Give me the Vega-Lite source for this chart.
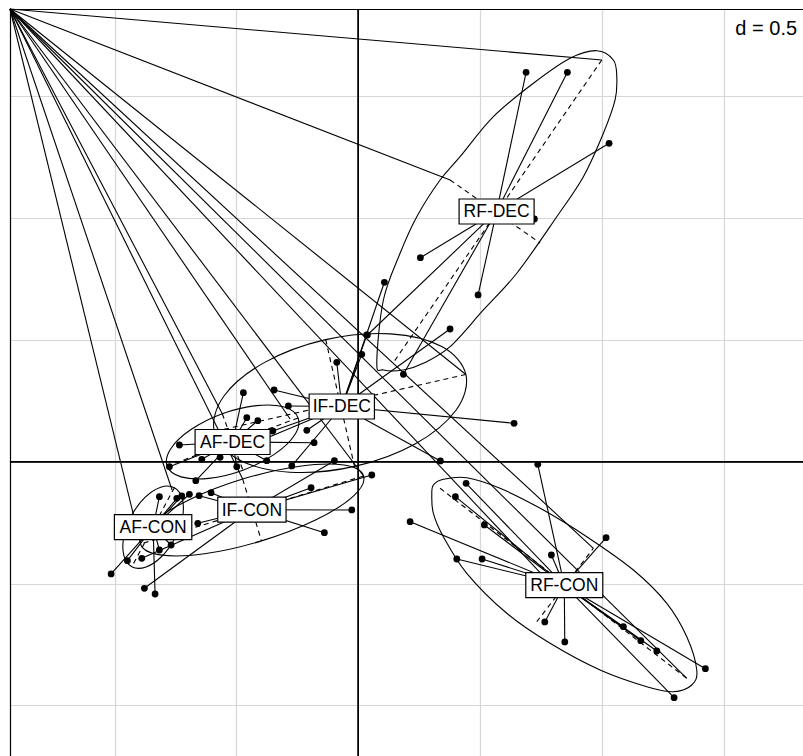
{
  "$schema": "https://vega.github.io/schema/vega-lite/v6.json",
  "width": 793,
  "height": 747,
  "autosize": {"type": "none"},
  "padding": {"left": 10, "top": 9, "right": 0, "bottom": 0},
  "background": "white",
  "config": {"view": {"stroke": null}},
  "datasets": {
    "points": [
      {"class":"RF-DEC","x":0.6879,"y":1.5972},{"class":"RF-DEC","x":0.8573,"y":1.5972},{"class":"RF-DEC","x":1.0283,"y":1.3060},{"class":"RF-DEC","x":0.2543,"y":0.8367},{"class":"RF-DEC","x":0.4910,"y":0.6838},{"class":"RF-DEC","x":0.0369,"y":0.5197},{"class":"RF-DEC","x":0.1846,"y":0.3585},{"class":"RF-DEC","x":0.7219,"y":0.9955},
      {"class":"RF-CON","x":0.7358,"y":-0.0107},{"class":"RF-CON","x":0.4418,"y":-0.0886},{"class":"RF-CON","x":0.3979,"y":-0.1436},{"class":"RF-CON","x":0.2121,"y":-0.2461},{"class":"RF-CON","x":0.5168,"y":-0.2596},{"class":"RF-CON","x":1.0160,"y":-0.3117},{"class":"RF-CON","x":0.7916,"y":-0.3827},{"class":"RF-CON","x":0.4036,"y":-0.3991},{"class":"RF-CON","x":0.5074,"y":-0.3991},{"class":"RF-CON","x":0.7646,"y":-0.6575},{"class":"RF-CON","x":0.8466,"y":-0.7395},{"class":"RF-CON","x":1.0869,"y":-0.6768},{"class":"RF-CON","x":1.1583,"y":-0.7342},{"class":"RF-CON","x":1.2240,"y":-0.7765},{"class":"RF-CON","x":1.4233,"y":-0.8491},{"class":"RF-CON","x":1.2949,"y":-0.9680},
      {"class":"IF-DEC","x":0.1066,"y":0.7358},{"class":"IF-DEC","x":0.0345,"y":0.5197},{"class":"IF-DEC","x":0.0139,"y":0.4405},{"class":"IF-DEC","x":-0.0886,"y":0.4077},{"class":"IF-DEC","x":0.3761,"y":0.5443},{"class":"IF-DEC","x":-0.3458,"y":0.2941},{"class":"IF-DEC","x":-0.2871,"y":0.2285},{"class":"IF-DEC","x":-0.2116,"y":0.1288},{"class":"IF-DEC","x":0.6386,"y":0.1575},{"class":"IF-DEC","x":0.3363,"y":0.0029},{"class":"IF-DEC","x":-0.2732,"y":-0.0176},{"class":"IF-DEC","x":-0.3511,"y":0.1259},{"class":"IF-DEC","x":-0.3950,"y":0.0890},
      {"class":"AF-DEC","x":-0.4717,"y":0.2830},{"class":"AF-DEC","x":-0.4577,"y":0.1805},{"class":"AF-DEC","x":-0.4126,"y":0.1682},{"class":"AF-DEC","x":-0.1817,"y":0.0779},{"class":"AF-DEC","x":-0.7342,"y":0.0685},{"class":"AF-DEC","x":-0.6423,"y":0.0098},{"class":"AF-DEC","x":-0.7752,"y":-0.0205},{"class":"AF-DEC","x":-0.3757,"y":0.0041},{"class":"AF-DEC","x":-0.4988,"y":-0.0205},{"class":"AF-DEC","x":-0.6669,"y":-0.0779},{"class":"AF-DEC","x":-0.5673,"y":0.0180},
      {"class":"IF-CON","x":-0.6534,"y":-0.1395},{"class":"IF-CON","x":-0.6042,"y":-0.1272},{"class":"IF-CON","x":-0.6587,"y":-0.2527},{"class":"IF-CON","x":-0.8778,"y":-0.5193},{"class":"IF-CON","x":-0.1940,"y":-0.1066},{"class":"IF-CON","x":-0.0271,"y":-0.1981},{"class":"IF-CON","x":-0.1395,"y":-0.2912},{"class":"IF-CON","x":-0.0984,"y":0.0041},{"class":"IF-CON","x":0.0550,"y":-0.0546},{"class":"IF-CON","x":-0.8884,"y":-0.3962},
      {"class":"AF-CON","x":-0.8162,"y":-0.1436},{"class":"AF-CON","x":-0.7449,"y":-0.1501},{"class":"AF-CON","x":-0.7244,"y":-0.1407},{"class":"AF-CON","x":-0.6932,"y":-0.1337},{"class":"AF-CON","x":-0.7682,"y":-0.3417},{"class":"AF-CON","x":-0.8162,"y":-0.3622},{"class":"AF-CON","x":-0.9475,"y":-0.4061},{"class":"AF-CON","x":-1.0143,"y":-0.4606},{"class":"AF-CON","x":-0.8339,"y":-0.5427}
    ],
    "centers": [
      {"class":"RF-DEC","x":0.5669,"y":1.0263},
      {"class":"RF-CON","x":0.8445,"y":-0.5066},
      {"class":"IF-DEC","x":-0.0681,"y":0.2264},
      {"class":"IF-CON","x":-0.4368,"y":-0.1969},
      {"class":"AF-DEC","x":-0.5160,"y":0.0808},
      {"class":"AF-CON","x":-0.8421,"y":-0.2687}
    ],
    "ellipses": [
      {"class":"RF-DEC","o":1,"x":0.0755,"y":0.4036},{"class":"RF-DEC","o":2,"x":0.1025,"y":0.6632},{"class":"RF-DEC","o":3,"x":0.1710,"y":0.8548},{"class":"RF-DEC","o":4,"x":0.2395,"y":1.0049},{"class":"RF-DEC","o":5,"x":0.3351,"y":1.1555},{"class":"RF-DEC","o":6,"x":0.4171,"y":1.2510},{"class":"RF-DEC","o":7,"x":0.5537,"y":1.4151},{"class":"RF-DEC","o":8,"x":0.7178,"y":1.5521},{"class":"RF-DEC","o":9,"x":0.8683,"y":1.6546},{"class":"RF-DEC","o":10,"x":0.9778,"y":1.6858},{"class":"RF-DEC","o":11,"x":1.0459,"y":1.6477},{"class":"RF-DEC","o":12,"x":1.0599,"y":1.5792},{"class":"RF-DEC","o":13,"x":1.0529,"y":1.4836},{"class":"RF-DEC","o":14,"x":1.0049,"y":1.3470},{"class":"RF-DEC","o":15,"x":0.9229,"y":1.1690},{"class":"RF-DEC","o":16,"x":0.8138,"y":1.0049},{"class":"RF-DEC","o":17,"x":0.6497,"y":0.7728},{"class":"RF-DEC","o":18,"x":0.5127,"y":0.6222},{"class":"RF-DEC","o":19,"x":0.3761,"y":0.4717},{"class":"RF-DEC","o":20,"x":0.2666,"y":0.4036},{"class":"RF-DEC","o":21,"x":0.1846,"y":0.3761},{"class":"RF-DEC","o":22,"x":0.1025,"y":0.3761},
      {"class":"RF-CON","o":1,"x":0.3011,"y":-0.1366},{"class":"RF-CON","o":2,"x":0.3076,"y":-0.0956},{"class":"RF-CON","o":3,"x":0.3486,"y":-0.0722},{"class":"RF-CON","o":4,"x":0.4446,"y":-0.0656},{"class":"RF-CON","o":5,"x":0.5812,"y":-0.1091},{"class":"RF-CON","o":6,"x":0.7588,"y":-0.1981},{"class":"RF-CON","o":7,"x":0.9368,"y":-0.3076},{"class":"RF-CON","o":8,"x":1.1280,"y":-0.4442},{"class":"RF-CON","o":9,"x":1.2650,"y":-0.5808},{"class":"RF-CON","o":10,"x":1.3470,"y":-0.7178},{"class":"RF-CON","o":11,"x":1.3880,"y":-0.8544},{"class":"RF-CON","o":12,"x":1.3675,"y":-0.9159},{"class":"RF-CON","o":13,"x":1.2920,"y":-0.9434},{"class":"RF-CON","o":14,"x":1.1829,"y":-0.9229},{"class":"RF-CON","o":15,"x":0.9914,"y":-0.8544},{"class":"RF-CON","o":16,"x":0.7863,"y":-0.7449},{"class":"RF-CON","o":17,"x":0.6087,"y":-0.6218},{"class":"RF-CON","o":18,"x":0.4446,"y":-0.4578},{"class":"RF-CON","o":19,"x":0.3486,"y":-0.3076},{"class":"RF-CON","o":20,"x":0.3076,"y":-0.2116},
      {"class":"IF-DEC","o":1,"x":0.4409,"y":0.3577},{"class":"IF-DEC","o":2,"x":0.4011,"y":0.2121},{"class":"IF-DEC","o":3,"x":0.2342,"y":0.0738},{"class":"IF-DEC","o":4,"x":-0.0160,"y":-0.0193},{"class":"IF-DEC","o":5,"x":-0.2818,"y":-0.0431},{"class":"IF-DEC","o":6,"x":-0.4922,"y":0.0094},{"class":"IF-DEC","o":7,"x":-0.5911,"y":0.1239},{"class":"IF-DEC","o":8,"x":-0.5513,"y":0.2695},{"class":"IF-DEC","o":9,"x":-0.3843,"y":0.4073},{"class":"IF-DEC","o":10,"x":-0.1341,"y":0.5008},{"class":"IF-DEC","o":11,"x":0.1317,"y":0.5242},{"class":"IF-DEC","o":12,"x":0.3421,"y":0.4721},
      {"class":"AF-DEC","o":1,"x":-0.2473,"y":0.1792},{"class":"AF-DEC","o":2,"x":-0.2621,"y":0.1083},{"class":"AF-DEC","o":3,"x":-0.3450,"y":0.0299},{"class":"AF-DEC","o":4,"x":-0.4737,"y":-0.0349},{"class":"AF-DEC","o":5,"x":-0.6136,"y":-0.0685},{"class":"AF-DEC","o":6,"x":-0.7272,"y":-0.0623},{"class":"AF-DEC","o":7,"x":-0.7847,"y":-0.0176},{"class":"AF-DEC","o":8,"x":-0.7695,"y":0.0533},{"class":"AF-DEC","o":9,"x":-0.6866,"y":0.1317},{"class":"AF-DEC","o":10,"x":-0.5582,"y":0.1965},{"class":"AF-DEC","o":11,"x":-0.4180,"y":0.2301},{"class":"AF-DEC","o":12,"x":-0.3043,"y":0.2240},
      {"class":"IF-CON","o":1,"x":0.0213,"y":-0.0587},{"class":"IF-CON","o":2,"x":-0.0205,"y":-0.1411},{"class":"IF-CON","o":3,"x":-0.1739,"y":-0.2383},{"class":"IF-CON","o":4,"x":-0.3975,"y":-0.3249},{"class":"IF-CON","o":5,"x":-0.6313,"y":-0.3778},{"class":"IF-CON","o":6,"x":-0.8130,"y":-0.3823},{"class":"IF-CON","o":7,"x":-0.8934,"y":-0.3376},{"class":"IF-CON","o":8,"x":-0.8515,"y":-0.2551},{"class":"IF-CON","o":9,"x":-0.6977,"y":-0.1579},{"class":"IF-CON","o":10,"x":-0.4746,"y":-0.0714},{"class":"IF-CON","o":11,"x":-0.2404,"y":-0.0185},{"class":"IF-CON","o":12,"x":-0.0591,"y":-0.0139},
      {"class":"AF-CON","o":1,"x":-0.7547,"y":-0.1066},{"class":"AF-CON","o":2,"x":-0.7223,"y":-0.1522},{"class":"AF-CON","o":3,"x":-0.7215,"y":-0.2289},{"class":"AF-CON","o":4,"x":-0.7535,"y":-0.3162},{"class":"AF-CON","o":5,"x":-0.8089,"y":-0.3909},{"class":"AF-CON","o":6,"x":-0.8733,"y":-0.4327},{"class":"AF-CON","o":7,"x":-0.9294,"y":-0.4307},{"class":"AF-CON","o":8,"x":-0.9619,"y":-0.3852},{"class":"AF-CON","o":9,"x":-0.9623,"y":-0.3089},{"class":"AF-CON","o":10,"x":-0.9307,"y":-0.2211},{"class":"AF-CON","o":11,"x":-0.8753,"y":-0.1468},{"class":"AF-CON","o":12,"x":-0.8109,"y":-0.1046}
    ],
    "axes": [
      {"x":0.9984,"y":1.6477,"x2":0.1423,"y2":0.4048},
      {"x":0.3761,"y":1.1555,"x2":0.7453,"y2":0.8970},
      {"x":0.3351,"y":-0.1091,"x2":1.3470,"y2":-0.8884},
      {"x":0.7317,"y":-0.6563,"x2":0.9639,"y2":-0.3552},
      {"x":0.4409,"y":0.3577,"x2":-0.5911,"y2":0.1239},
      {"x":-0.1341,"y":0.5008,"x2":-0.0160,"y2":-0.0193},
      {"x":-0.2473,"y":0.1792,"x2":-0.7847,"y2":-0.0176},
      {"x":-0.5582,"y":0.1965,"x2":-0.4737,"y2":-0.0349},
      {"x":0.0213,"y":-0.0587,"x2":-0.8934,"y2":-0.3376},
      {"x":-0.4746,"y":-0.0714,"x2":-0.3975,"y2":-0.3249},
      {"x":-0.7547,"y":-0.1066,"x2":-0.9294,"y2":-0.4307},
      {"x":-0.9307,"y":-0.2211,"x2":-0.7535,"y2":-0.3162}
    ],
    "corner": [
      {"x":-1.429,"y":1.8568,"x2":-0.8934,"y2":-0.3376},
      {"x":-1.429,"y":1.8568,"x2":-0.7642,"y2":-0.1161},
      {"x":-1.429,"y":1.8568,"x2":-0.4746,"y2":-0.0714},
      {"x":-1.429,"y":1.8568,"x2":-0.5582,"y2":0.1965},
      {"x":-1.429,"y":1.8568,"x2":-0.2801,"y2":0.1751},
      {"x":-1.429,"y":1.8568,"x2":0.0213,"y2":-0.0587},
      {"x":-1.429,"y":1.8568,"x2":0.7658,"y2":-0.4770},
      {"x":-1.429,"y":1.8568,"x2":1.3470,"y2":-0.8884},
      {"x":-1.429,"y":1.8568,"x2":0.9639,"y2":-0.3552},
      {"x":-1.429,"y":1.8568,"x2":0.4409,"y2":0.3577},
      {"x":-1.429,"y":1.8568,"x2":0.9984,"y2":1.6477},
      {"x":-1.429,"y":1.8568,"x2":0.3761,"y2":1.1555}
    ]
  },
  "layer": [
    {
      "data": {"name": "centers"},
      "mark": {"type": "rule", "color": "black", "strokeWidth": 1.2},
      "encoding": {
        "x": {"datum": 0, "type": "quantitative",
              "scale": {"domain": [-1.429, 1.8237], "nice": false, "zero": false},
              "axis": {"orient": "top", "values": [-1, -0.5, 0.5, 1, 1.5], "grid": true, "gridColor": "#d6d6d6", "gridWidth": 1.2, "ticks": false, "labels": false, "title": null, "domain": true, "domainColor": "black", "domainWidth": 1.2}}
      }
    },
    {
      "data": {"name": "centers"},
      "mark": {"type": "rule", "color": "black", "strokeWidth": 1.2},
      "encoding": {
        "y": {"datum": 0, "type": "quantitative",
              "scale": {"domain": [-1.2072, 1.8568], "nice": false, "zero": false},
              "axis": {"orient": "left", "values": [-1, -0.5, 0.5, 1, 1.5], "grid": true, "gridColor": "#d6d6d6", "gridWidth": 1.2, "ticks": false, "labels": false, "title": null, "domain": true, "domainColor": "black", "domainWidth": 1.2}}
      }
    },
    {
      "data": {"name": "ellipses"},
      "mark": {"type": "line", "interpolate": "cardinal-closed", "color": "black", "strokeWidth": 1.1},
      "encoding": {
        "x": {"field": "x", "type": "quantitative", "scale": {"domain": [-1.429, 1.8237], "nice": false, "zero": false}},
        "y": {"field": "y", "type": "quantitative", "scale": {"domain": [-1.2072, 1.8568], "nice": false, "zero": false}},
        "detail": {"field": "class"},
        "order": {"field": "o", "type": "quantitative"}
      }
    },
    {
      "data": {"name": "axes"},
      "mark": {"type": "rule", "color": "black", "strokeWidth": 1.1, "strokeDash": [5, 4]},
      "encoding": {
        "x": {"field": "x", "type": "quantitative", "scale": {"domain": [-1.429, 1.8237], "nice": false, "zero": false}},
        "y": {"field": "y", "type": "quantitative", "scale": {"domain": [-1.2072, 1.8568], "nice": false, "zero": false}},
        "x2": {"field": "x2"},
        "y2": {"field": "y2"}
      }
    },
    {
      "data": {"name": "corner"},
      "mark": {"type": "rule", "color": "black", "strokeWidth": 1.1},
      "encoding": {
        "x": {"field": "x", "type": "quantitative", "scale": {"domain": [-1.429, 1.8237], "nice": false, "zero": false}},
        "y": {"field": "y", "type": "quantitative", "scale": {"domain": [-1.2072, 1.8568], "nice": false, "zero": false}},
        "x2": {"field": "x2"},
        "y2": {"field": "y2"}
      }
    },
    {
      "data": {"name": "points"},
      "transform": [
        {"lookup": "class", "from": {"data": {"name": "centers"}, "key": "class", "fields": ["x", "y"]}, "as": ["cx", "cy"]}
      ],
      "mark": {"type": "rule", "color": "black", "strokeWidth": 1.1},
      "encoding": {
        "x": {"field": "x", "type": "quantitative", "scale": {"domain": [-1.429, 1.8237], "nice": false, "zero": false}},
        "y": {"field": "y", "type": "quantitative", "scale": {"domain": [-1.2072, 1.8568], "nice": false, "zero": false}},
        "x2": {"field": "cx"},
        "y2": {"field": "cy"}
      }
    },
    {
      "data": {"name": "points"},
      "mark": {"type": "point", "filled": true, "color": "black", "opacity": 1, "size": 46},
      "encoding": {
        "x": {"field": "x", "type": "quantitative", "scale": {"domain": [-1.429, 1.8237], "nice": false, "zero": false}},
        "y": {"field": "y", "type": "quantitative", "scale": {"domain": [-1.2072, 1.8568], "nice": false, "zero": false}}
      }
    },
    {
      "data": {"name": "centers"},
      "mark": {"type": "point", "filled": true, "fill": "white", "stroke": "black", "strokeWidth": 1.2, "opacity": 1, "size": 2500},
      "encoding": {
        "x": {"field": "x", "type": "quantitative", "scale": {"domain": [-1.429, 1.8237], "nice": false, "zero": false}},
        "y": {"field": "y", "type": "quantitative", "scale": {"domain": [-1.2072, 1.8568], "nice": false, "zero": false}},
        "shape": {"field": "class", "type": "nominal", "legend": null,
                  "scale": {"domain": ["RF-DEC", "RF-CON", "IF-DEC", "IF-CON", "AF-DEC", "AF-CON"],
                            "range": ["M-1.5,-0.5L1.5,-0.5L1.5,0.5L-1.5,0.5Z", "M-1.54,-0.5L1.54,-0.5L1.54,0.5L-1.54,0.5Z", "M-1.306,-0.5L1.306,-0.5L1.306,0.5L-1.306,0.5Z", "M-1.366,-0.5L1.366,-0.5L1.366,0.5L-1.366,0.5Z", "M-1.5,-0.5L1.5,-0.5L1.5,0.5L-1.5,0.5Z", "M-1.548,-0.5L1.548,-0.5L1.548,0.5L-1.548,0.5Z"]}}
      }
    },
    {
      "data": {"name": "centers"},
      "mark": {"type": "text", "font": "Liberation Sans", "fontSize": 17.5, "align": "center", "baseline": "middle", "color": "black", "dy": 1},
      "encoding": {
        "x": {"field": "x", "type": "quantitative", "scale": {"domain": [-1.429, 1.8237], "nice": false, "zero": false}},
        "y": {"field": "y", "type": "quantitative", "scale": {"domain": [-1.2072, 1.8568], "nice": false, "zero": false}},
        "text": {"field": "class"}
      }
    },
    {
      "data": {"values": [{"x": 1.7994, "y": 1.7502, "t": "d = 0.5"}]},
      "mark": {"type": "text", "font": "Liberation Sans", "fontSize": 20, "align": "right", "baseline": "alphabetic", "color": "black"},
      "encoding": {
        "x": {"field": "x", "type": "quantitative", "scale": {"domain": [-1.429, 1.8237], "nice": false, "zero": false}},
        "y": {"field": "y", "type": "quantitative", "scale": {"domain": [-1.2072, 1.8568], "nice": false, "zero": false}},
        "text": {"field": "t"}
      }
    }
  ]
}
